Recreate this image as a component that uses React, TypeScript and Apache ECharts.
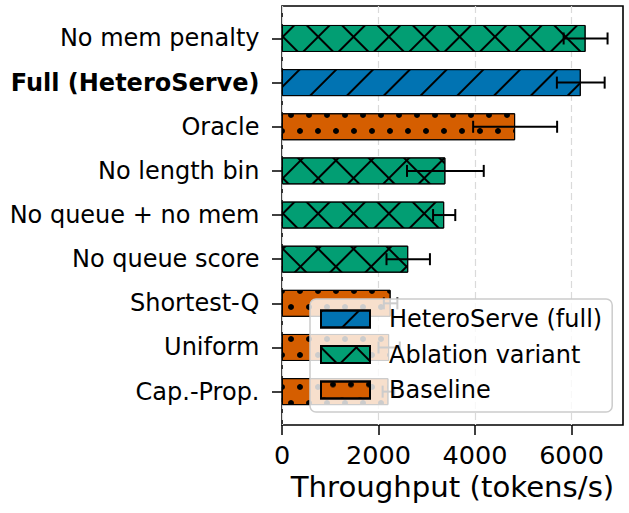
import React, { useEffect, useRef } from 'react';
import * as echarts from 'echarts';

// ---- data ----
const categories = [
  'No mem penalty',
  'Full (HeteroServe)',
  'Oracle',
  'No length bin',
  'No queue + no mem',
  'No queue score',
  'Shortest-Q',
  'Uniform',
  'Cap.-Prop.',
];
const groupOf = [
  'Ablation variant',
  'HeteroServe (full)',
  'Baseline',
  'Ablation variant',
  'Ablation variant',
  'Ablation variant',
  'Baseline',
  'Baseline',
  'Baseline',
];
const throughput = [6290, 6190, 4830, 3385, 3360, 2615, 2250, 2220, 2205];
const errorHalf = [455, 495, 870, 795, 230, 450, 140, 220, 120];
const xTickValues = [0, 2000, 4000, 6000];
const seriesNames = ['HeteroServe (full)', 'Ablation variant', 'Baseline'];
const seriesColors = ['#0173b2', '#029e73', '#d55e00'];

const X_MAX = 7065;
const FONT = 'DejaVu Sans';

const decals: any[] = [
  { symbol: 'rect', symbolSize: 1, color: '#000', dashArrayX: [[26, 0]], dashArrayY: [2, 24], rotation: -Math.PI / 4 },
  { symbol: 'rect', symbolSize: 1, color: '#000', dashArrayX: [[25, 0], [2, 23]], dashArrayY: [2, 0, 23, 0], rotation: Math.PI / 4 },
  { symbol: 'circle', symbolSize: 1, color: '#000', dashArrayX: [[6, 12], [0, 9, 6, 3]], dashArrayY: [6, 10], rotation: 0 },
];

export default function App() {
  const ref = useRef<HTMLDivElement>(null);
  useEffect(() => {
    if (!ref.current) return;
    const chart = echarts.init(ref.current, null, { renderer: 'svg' });
    const barSeries = seriesNames.map((name, k) => ({
      name,
      type: 'bar',
      xAxisIndex: 1,
      yAxisIndex: 1,
      barWidth: 27,
      barGap: '-100%',
      z: 2,
      data: throughput.map((v, i) => (groupOf[i] === name ? v : '-')),
      itemStyle: {
        color: seriesColors[k],
        borderColor: '#000',
        borderWidth: 1,
        decal: decals[k],
      },
    }));
    const option: any = {
      animation: false,
      backgroundColor: '#fff',
      textStyle: { fontFamily: FONT },
      grid: [
        {
          left: 282, right: 6, top: 6, bottom: 88,
          show: true, borderColor: '#000', borderWidth: 1.6, backgroundColor: 'transparent',
          outerBoundsMode: 'none',
        },
        {
          left: 282, right: 6, top: 16.4, bottom: 99.3,
          outerBoundsMode: 'none',
        },
      ],
      xAxis: [
        {
          type: 'value', gridIndex: 0, min: 0, max: X_MAX, interval: 2000,
          axisLine: { show: false },
          axisTick: { show: true, length: 10, lineStyle: { color: '#000', width: 1.5 }, customValues: xTickValues },
          axisLabel: {
            customValues: xTickValues,
            formatter: (v: number) => String(v),
            fontSize: 25.5, color: '#000', margin: 17, fontFamily: FONT,
          },
          splitLine: { show: true, lineStyle: { type: [7, 4], color: '#dadada', width: 1.2 } },
          name: 'Throughput (tokens/s)',
          nameLocation: 'middle',
          nameGap: 47.5,
          nameTextStyle: { fontSize: 29.2, color: '#000', fontFamily: FONT },
        },
        {
          type: 'value', gridIndex: 1, min: 0, max: X_MAX, show: false,
          splitLine: { show: false },
        },
      ],
      yAxis: [
        { type: 'value', gridIndex: 0, min: 0, max: 1, show: false, splitLine: { show: false } },
        {
          type: 'category', gridIndex: 1, data: categories, inverse: true,
          axisLine: { show: false },
          axisTick: { show: true, alignWithLabel: true, length: 10, lineStyle: { color: '#000', width: 1.5 } },
          splitLine: { show: false },
          axisLabel: {
            fontSize: 24, color: '#000', margin: 22.5, fontFamily: FONT,
            formatter: (v: string) => (v === 'Full (HeteroServe)' ? `{b|${v}}` : v),
            rich: { b: { fontWeight: 'bold', fontSize: 24, color: '#000', fontFamily: FONT } },
          },
        },
      ],
      legend: {
        data: seriesNames,
        orient: 'vertical',
        left: 310,
        top: 299,
        padding: [8, 10, 10, 10],
        itemWidth: 49,
        itemHeight: 17,
        itemGap: 11.5,
        icon: 'rect',
        backgroundColor: 'rgba(255,255,255,0.8)',
        borderColor: '#cccccc',
        borderWidth: 1.5,
        borderRadius: 6,
        textStyle: { fontFamily: FONT, fontSize: 24, color: '#000', padding: [0, 0, 0, 14] },
      },
      series: [
        ...barSeries,
        {
          type: 'custom',
          name: 'err',
          xAxisIndex: 1,
          yAxisIndex: 1,
          z: 3,
          silent: true,
          data: categories.map((c, i) => [i, throughput[i] - errorHalf[i], throughput[i] + errorHalf[i]]),
          encode: { y: 0, x: [1, 2] },
          renderItem: (params: any, api: any) => {
            const yi = api.value(0);
            const lo = api.coord([api.value(1), yi]);
            const hi = api.coord([api.value(2), yi]);
            const cap = 6;
            const style = { stroke: '#000', lineWidth: 2 };
            return {
              type: 'group',
              children: [
                { type: 'line', shape: { x1: lo[0], y1: lo[1], x2: hi[0], y2: hi[1] }, style },
                { type: 'line', shape: { x1: lo[0], y1: lo[1] - cap, x2: lo[0], y2: lo[1] + cap }, style },
                { type: 'line', shape: { x1: hi[0], y1: hi[1] - cap, x2: hi[0], y2: hi[1] + cap }, style },
              ],
            };
          },
        },
      ],
    };
    chart.setOption(option);
    return () => chart.dispose();
  }, []);
  return (
    <div
      ref={ref}
      style={{ position: 'fixed', left: 0, top: 0, width: 629, height: 513, background: '#fff' }}
    />
  );
}
